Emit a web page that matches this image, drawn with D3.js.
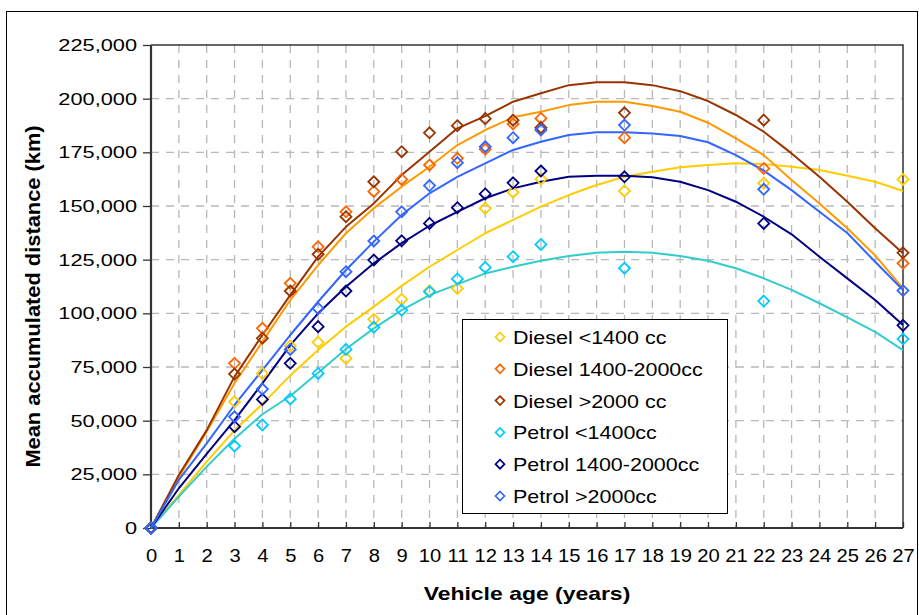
<!DOCTYPE html>
<html><head><meta charset="utf-8">
<script src="https://cdn.jsdelivr.net/npm/d3@7/dist/d3.min.js"></script>
<style>
body{margin:0;background:#fff}
svg{display:block}
text{font-family:"Liberation Sans",Arial,sans-serif;fill:#000}
</style>
</head><body>
<svg id="chart" width="919" height="615"></svg>
<script>
// ---------- DATA ----------
const ages = d3.range(0, 28);                       // fitted-curve ages
const sampleAges = [0,3,4,5,6,7,8,9,10,11,12,13,14,17,22,27];
const yTickValues = [0,25000,50000,75000,100000,125000,150000,175000,200000,225000];
const xTickValues = d3.range(0, 28);

const seriesNames = ["Diesel <1400 cc","Diesel 1400-2000cc","Diesel >2000 cc","Petrol <1400cc","Petrol 1400-2000cc","Petrol >2000cc"];
const markerColors = ["#FFCC00","#FF6600","#993300","#00CCFF","#000080","#3366FF"];
const lineColors   = ["#FFCC00","#FF9900","#993300","#33CCCC","#000080","#3366FF"];

// observed means (markers)
const dieselSmallObs  = [0,58800,72000,84800,86500,79000,97200,106500,110500,111600,148900,156400,162600,157000,160600,162400];
const dieselMidObs    = [0,76700,93000,114000,131000,147300,156800,162400,169100,172200,176400,188200,190800,181800,167500,123300];
const dieselLargeObs  = [0,71700,88400,110400,127500,145000,161300,175300,184100,187400,190700,190000,186500,193400,190000,128200];
const petrolSmallObs  = [0,38200,48000,60100,72000,83200,93500,101500,110100,116000,121400,126400,132100,121000,105700,88000];
const petrolMidObs    = [0,47200,59900,76700,93800,110400,124800,133800,141900,149200,155600,160800,166300,163600,141900,94400];
const petrolLargeObs  = [0,51800,64700,83200,102300,119400,133700,147300,159500,170200,177600,181800,185400,187700,157800,110600];

// fitted curves (lines)
const dieselSmallFit = [0,15400,30900,45500,57800,71000,82900,93800,103100,112800,121700,129500,137300,143500,149700,155100,159800,163600,166000,168000,169100,169900,169600,168300,166800,164100,161300,157000];
const dieselMidFit   = [0,23800,44900,67400,86800,106200,122500,137300,149000,159000,168300,178400,185400,191300,193900,197000,198600,198600,196600,193900,188800,181500,173700,162100,151200,139600,127000,111600];
const dieselLargeFit = [0,24700,45600,70500,89900,108500,126400,140300,151200,164400,175300,186200,191900,198600,202500,206300,207600,207600,206300,203500,198900,192400,184600,174500,163600,152000,139600,128000];
const petrolSmallFit = [0,14600,28600,41600,53000,61500,72300,83400,93000,101500,108500,113500,118600,121700,124500,126700,128200,128700,128200,126700,124500,121000,116300,110900,104700,98100,91400,82900];
const petrolMidFit   = [0,18500,34500,50300,67400,85200,100000,112400,123300,132700,140800,147300,153600,158200,161300,163600,164100,164100,163400,161300,157400,152000,145000,136800,126400,116300,106200,94600];
const petrolLargeFit = [0,22400,39400,57300,73600,89900,105400,120200,133400,145800,155900,163600,169900,176100,179900,183100,184300,184300,183800,182600,179700,173700,166500,157400,147300,137400,124000,110900];

const obsSeries = [dieselSmallObs,dieselMidObs,dieselLargeObs,petrolSmallObs,petrolMidObs,petrolLargeObs];
const fitSeries = [dieselSmallFit,dieselMidFit,dieselLargeFit,petrolSmallFit,petrolMidFit,petrolLargeFit];

// ---------- LAYOUT ----------
const svg = d3.select("#chart");
const L = 151, R = 903, T = 45, B = 528;
const x = d3.scaleLinear().domain([0,27]).range([L,R]);
const y = d3.scaleLinear().domain([0,225000]).range([B,T]);

function stretch(sel, f){
  sel.each(function(){
    const w = this.getComputedTextLength();
    this.setAttribute("textLength", w*f);
    this.setAttribute("lengthAdjust","spacingAndGlyphs");
  });
}

// outer frame
svg.append("rect").attr("x",6.5).attr("y",11.5).attr("width",911).attr("height",620)
  .attr("fill","none").attr("stroke","#000").attr("stroke-width",1);

// gridlines
const grid = svg.append("g").attr("stroke","#b8b8b8").attr("stroke-width",1.3).attr("stroke-dasharray","8,7");
grid.selectAll("line.v").data(xTickValues.filter(d=>d>0 && d<27)).join("line")
  .attr("x1",d=>x(d)).attr("x2",d=>x(d)).attr("y1",T).attr("y2",B);
grid.selectAll("line.h").data(yTickValues.filter(d=>d>0 && d<225000)).join("line")
  .attr("class","h").attr("x1",L).attr("x2",R).attr("y1",d=>y(d)).attr("y2",d=>y(d));

// plot frame (top and right)
svg.append("path").attr("d",`M${L},${T}H${R}V${B}`).attr("fill","none")
  .attr("stroke","#333").attr("stroke-width",1.5);

// y axis
const yAxis = svg.append("g").attr("transform",`translate(${L},0)`)
  .call(d3.axisLeft(y).tickValues(yTickValues).tickSize(8).tickPadding(6).tickFormat(d3.format(",")));
yAxis.select(".domain").remove();
yAxis.selectAll(".tick line").attr("stroke","#333").attr("stroke-width",1.3);
yAxis.selectAll("text").attr("font-size",17).attr("font-family","Liberation Sans, Arial, sans-serif");
stretch(yAxis.selectAll("text"), 1.28);

// x axis
const xAxis = svg.append("g").attr("transform",`translate(0,${B})`)
  .call(d3.axisBottom(x).tickValues(xTickValues).tickSizeInner(-6).tickSizeOuter(0).tickPadding(21));
xAxis.select(".domain").remove();
xAxis.selectAll(".tick line").attr("stroke","#333").attr("stroke-width",1.3);
xAxis.selectAll("text").attr("font-size",18).attr("font-family","Liberation Sans, Arial, sans-serif");
stretch(xAxis.selectAll("text"), 1.12);

// axis lines
svg.append("line").attr("x1",L).attr("x2",L).attr("y1",T).attr("y2",B).attr("stroke","#333").attr("stroke-width",2.2);
svg.append("line").attr("x1",L).attr("x2",R).attr("y1",B).attr("y2",B).attr("stroke","#333").attr("stroke-width",2.2);

// fitted lines
const line = d3.line().x((d,i)=>x(ages[i])).y(d=>y(d));
svg.append("g").selectAll("path").data(fitSeries).join("path")
  .attr("d",line).attr("fill","none").attr("stroke",(d,i)=>lineColors[i]).attr("stroke-width",2)
  .attr("stroke-linejoin","round");

// markers
const diamond = (cx,cy,r)=>`M${cx},${cy-r}L${cx+r},${cy}L${cx},${cy+r}L${cx-r},${cy}Z`;
obsSeries.forEach((vals,si)=>{
  svg.append("g").selectAll("path").data(vals).join("path")
    .attr("d",(d,i)=>diamond(x(sampleAges[i]),y(d),5.5))
    .attr("fill","none").attr("stroke",markerColors[si]).attr("stroke-width",1.8);
});

// axis titles
const yt = svg.append("text").attr("transform",`translate(40,${(T+B)/2+10}) rotate(-90)`)
  .attr("text-anchor","middle").attr("font-size",21).attr("font-weight","bold")
  .text("Mean accumulated distance (km)");
stretch(yt, 1.04);
const xt = svg.append("text").attr("x",(L+R)/2).attr("y",600).attr("text-anchor","middle")
  .attr("font-size",18.5).attr("font-weight","bold").text("Vehicle age (years)");
stretch(xt, 1.24);

// legend
const lg = svg.append("g");
lg.append("rect").attr("x",462.5).attr("y",319.5).attr("width",265).attr("height",194)
  .attr("fill","#fff").attr("stroke","#000").attr("stroke-width",1);
seriesNames.forEach((name,i)=>{
  const cy = 337 + i*31.8;
  lg.append("path").attr("d",diamond(500,cy,4.5)).attr("fill","none")
    .attr("stroke",markerColors[i]).attr("stroke-width",1.7);
  const t = lg.append("text").attr("x",513).attr("y",cy+7).attr("font-size",19).text(name);
  stretch(t, 1.13);
});
</script>
</body></html>
